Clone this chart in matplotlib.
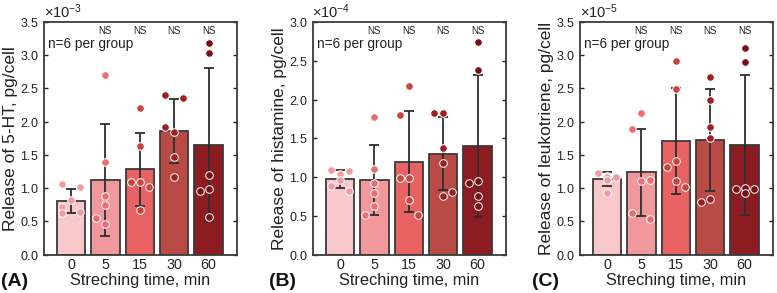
import numpy as np
import matplotlib
matplotlib.use("Agg")
import matplotlib.pyplot as plt
from matplotlib.ticker import ScalarFormatter, MultipleLocator

plt.rcParams['font.family'] = ['Liberation Sans', 'DejaVu Sans']
plt.rcParams['mathtext.fontset'] = 'custom'
plt.rcParams['mathtext.rm'] = 'Liberation Sans'

# Streching time groups
groups = ['0', '5', '15', '30', '60']

# Panel A: 5-HT (x 1e-3 pg/cell)
ht_mean = [0.81, 1.12, 1.285, 1.86, 1.65]
ht_sd = [0.18, 0.84, 0.55, 0.48, 1.15]
ht_points = [
    [1.055, 1.01, 0.82, 0.71, 0.63, 0.635],
    [2.695, 1.395, 0.875, 0.745, 0.545, 0.455],
    [2.205, 1.635, 1.085, 1.09, 1.01, 0.665],
    [2.395, 2.355, 1.925, 1.84, 1.47, 1.17],
    [3.18, 3.035, 1.19, 0.955, 0.99, 0.56],
]

# Panel B: histamine (x 1e-4 pg/cell)
his_mean = [0.975, 0.957, 1.20, 1.30, 1.40]
his_sd = [0.114, 0.45, 0.65, 0.47, 0.92]
his_points = [
    [1.088, 1.071, 1.045, 0.955, 0.882, 0.822],
    [1.768, 1.105, 0.92, 0.796, 0.632, 0.508],
    [2.168, 1.798, 0.989, 0.989, 0.705, 0.516],
    [1.828, 1.828, 1.376, 1.178, 0.761, 0.809],
    [2.748, 2.383, 0.942, 0.92, 0.757, 0.628],
]

# Panel C: leukotriene (x 1e-5 pg/cell)
lt_mean = [1.135, 1.235, 1.705, 1.72, 1.645]
lt_sd = [0.105, 0.65, 0.795, 0.77, 1.05]
lt_points = [
    [1.23, 1.18, 1.17, 1.16, 1.12, 0.93],
    [2.135, 1.89, 1.105, 1.115, 0.63, 0.53],
    [2.91, 2.49, 1.405, 1.31, 1.105, 1.015],
    [2.67, 2.33, 1.925, 1.755, 0.795, 0.84],
    [3.11, 2.9, 0.98, 1.005, 0.98, 0.92],
]

# horizontal swarm offsets of the dots (layout only)
offsets = [
    [-0.26, 0.26, 0.0, -0.26, -0.26, 0.26],
    [0.0, 0.0, 0.0, 0.0, -0.26, 0.0],
    [0.0, 0.0, -0.26, 0.0, 0.26, 0.0],
    [-0.26, 0.26, -0.26, 0.0, 0.0, 0.0],
    [0.0, 0.0, 0.0, -0.26, 0.0, 0.0],
]
offsets_b = [
    [-0.26, 0.26, 0.0, 0.0, -0.26, 0.26],
    [0.0, 0.0, 0.0, 0.0, 0.0, -0.26],
    [0.0, -0.26, -0.26, 0.0, 0.0, 0.26],
    [-0.26, 0.0, 0.0, 0.0, 0.0, 0.26],
    [0.0, 0.0, 0.0, -0.26, 0.0, 0.0],
]
offsets_c = [
    [-0.26, 0.0, 0.26, 0.0, 0.0, 0.0],
    [0.0, -0.26, 0.0, 0.26, -0.26, 0.26],
    [0.0, 0.0, 0.0, -0.26, 0.0, 0.26],
    [0.0, 0.0, 0.0, 0.0, -0.26, 0.0],
    [0.0, 0.0, -0.26, 0.0, 0.26, 0.0],
]

bar_colors = ['#f8c8cb', '#f0989c', '#e96264', '#b94a45', '#8c1c22']
dot_colors = ['#f29aa0', '#ee6b71', '#c9443f', '#a11d22', '#780f15']
edge = '#3a3a3a'

panels = [
    dict(mean=ht_mean, sd=ht_sd, pts=ht_points, off=offsets, scale=1e-3, ymax=3.5,
         ylabel='Release of 5-HT, pg/cell', tag='(A)', left=43.5, tagx=1),
    dict(mean=his_mean, sd=his_sd, pts=his_points, off=offsets_b, scale=1e-4, ymax=3.0,
         ylabel='Release of histamine, pg/cell', tag='(B)', left=312.5, tagx=269),
    dict(mean=lt_mean, sd=lt_sd, pts=lt_points, off=offsets_c, scale=1e-5, ymax=3.5,
         ylabel='Release of leukotriene, pg/cell', tag='(C)', left=579.5, tagx=532),
]

W, H = 777, 293
fig = plt.figure(figsize=(W / 100, H / 100), dpi=100)
x = np.arange(len(groups))

for p in panels:
    ax = fig.add_axes([p['left'] / W, (H - 254.5) / H, 193.3 / W, 232.5 / H])
    s = p['scale']
    mean = np.array(p['mean']) * s
    sd = np.array(p['sd']) * s
    ax.bar(x, mean, width=0.83, color=bar_colors, edgecolor=edge, linewidth=1.3, zorder=2)
    ax.errorbar(x, mean, yerr=sd, fmt='none', ecolor='#2e2e2e', elinewidth=1.3,
                capsize=3.3, capthick=1.3, zorder=3)
    for i in range(len(groups)):
        xs = x[i] + np.array(p['off'][i])
        ys = np.array(p['pts'][i]) * s
        ax.scatter(xs, ys, s=30, color=dot_colors[i], edgecolor='white', linewidth=0.7, zorder=4)
        if i > 0:
            ax.text(x[i], p['ymax'] * s * 0.962, 'NS', ha='center', va='center', fontsize=7,
                    color='#222222')
    ax.text(0.025, 0.904, 'n=6 per group', transform=ax.transAxes, fontsize=9.8,
            ha='left', va='center', color='#222222')

    ax.set_xlim(-0.8, 4.82)
    ax.set_ylim(0, p['ymax'] * s)
    ax.yaxis.set_major_locator(MultipleLocator(0.5 * s))
    fmt = ScalarFormatter(useMathText=True)
    fmt.set_powerlimits((0, 0))
    ax.yaxis.set_major_formatter(fmt)
    ax.yaxis.get_offset_text().set_fontsize(10.5)
    ax.yaxis.get_offset_text().set_color('#333333')
    ax.set_xticks(x)
    ax.set_xticklabels(groups)
    ax.tick_params(axis='x', length=0, labelsize=10.3, pad=2.8, colors='#222222')
    ax.tick_params(axis='y', direction='in', length=3, labelsize=9, right=True,
                   colors='#222222', width=1)
    for sp in ax.spines.values():
        sp.set_color(edge)
        sp.set_linewidth(1.3)
    ax.set_ylabel(p['ylabel'], fontsize=12.5, labelpad=1, color='#222222')
    ax.set_xlabel('Streching time, min', fontsize=11.8, labelpad=0.3, color='#222222')
    fig.text(p['tagx'] / W, 3 / H, p['tag'], fontsize=14, fontweight='bold',
             ha='left', va='bottom', color='#111111')

fig.savefig('out.png', dpi=100)
